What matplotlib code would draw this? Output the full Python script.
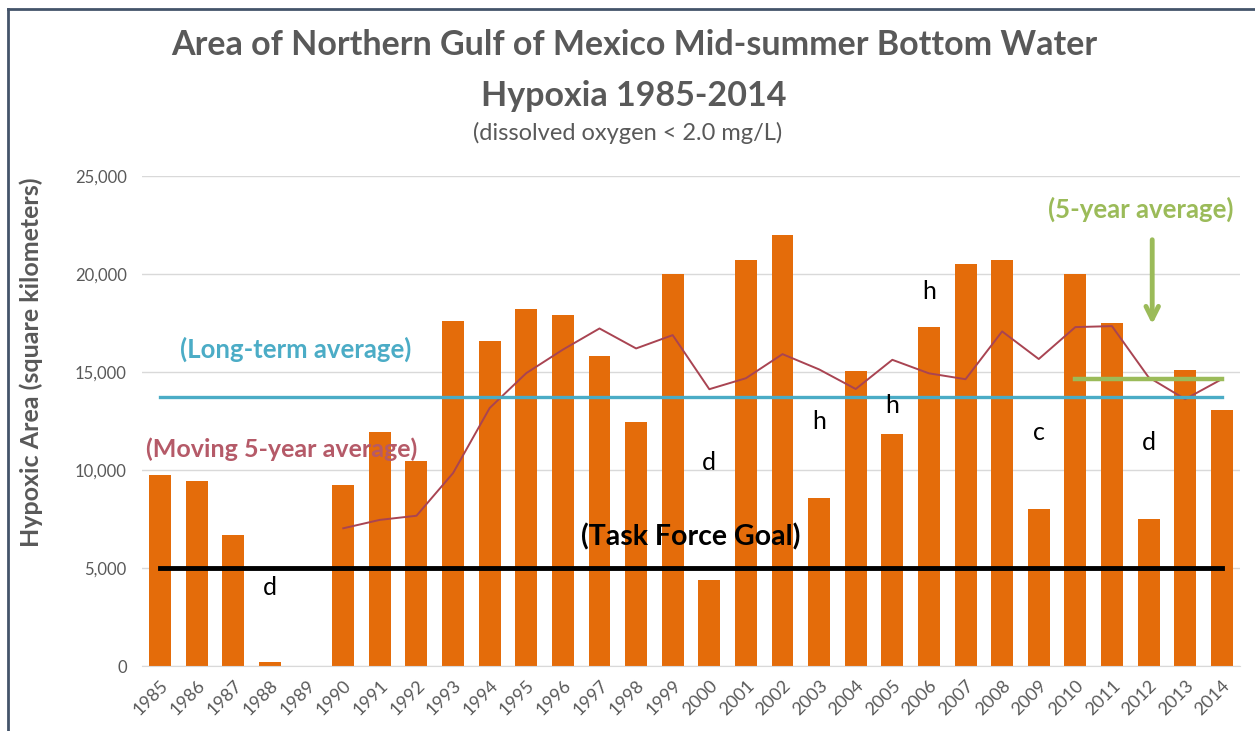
import numpy as np
import matplotlib
matplotlib.use("Agg")
import matplotlib.pyplot as plt
from matplotlib.lines import Line2D

years = list(range(1985, 2015))
area = [9774, 9420, 6670, 200, np.nan, 9260, 11920, 10450, 17600, 16600,
        18200, 17920, 15840, 12480, 20000, 4400, 20720, 22000, 8560, 15040,
        11840, 17280, 20500, 20720, 8000, 20000, 17520, 7480, 15120, 13080]
moving_years = list(range(1990, 2015))
moving_avg = [7030, 7460, 7670, 9850, 13170, 14950, 16150, 17230, 16210, 16890,
              14130, 14690, 15920, 15140, 14140, 15630, 14940, 14640, 17080, 15670,
              17300, 17350, 14740, 13620, 14640]
long_term_avg = 13750
five_year_avg = 14640
task_force_goal = 5000
notes = [(1988, 4000, "d"), (2000, 10400, "d"), (2003, 12500, "h"), (2005, 13300, "h"),
         (2006, 19100, "h"), (2009, 11900, "c"), (2012, 11400, "d")]

plt.rcParams['font.family'] = ['Lato', 'DejaVu Sans']
gray = "#595959"

fig = plt.figure(figsize=(12.55, 7.31), dpi=100)
ax = fig.add_axes([0.1131, 0.0889, 0.875, 0.670])

x = np.arange(len(years))
ax.bar(x, area, width=0.6, color="#E46C0A", zorder=2)

mx = [years.index(y) for y in moving_years]
ax.plot(mx, moving_avg, color="#A94452", lw=1.4, zorder=3)

ax.plot([0, 29], [long_term_avg, long_term_avg], color="#4BACC6", lw=2.4, zorder=3)
ax.plot([0, 29], [task_force_goal, task_force_goal], color="black", lw=3.5, zorder=4)
ax.plot([25, 29], [five_year_avg, five_year_avg], color="#9BBB59", lw=3.2, zorder=4)

for yr, v, s in notes:
    ax.text(years.index(yr), v, s, fontsize=18, ha="center", va="center", color="black", zorder=5)

ax.text(0.55, 16150, "(Long-term average)", color="#4BACC6", fontsize=18.5,
        fontweight="bold", va="center", ha="left", zorder=5)
ax.text(-0.4, 11050, "(Moving 5-year average)", color="#B55A68", fontsize=18,
        fontweight="bold", va="center", ha="left", zorder=5)
ax.text(14.5, 6580, "(Task Force Goal)", color="black", fontsize=20.5,
        fontweight="bold", va="center", ha="center", zorder=5)
ax.text(26.8, 23300, "(5-year average)", color="#9BBB59", fontsize=18.5,
        fontweight="bold", va="center", ha="center", zorder=5)
ax.annotate("", xy=(27.1, 17300), xytext=(27.1, 21900),
            arrowprops=dict(arrowstyle="->,head_width=0.45,head_length=0.9",
                            color="#9BBB59", lw=3.5), zorder=5)

ax.set_xlim(-0.5, 29.5)
ax.set_ylim(0, 25000)
ax.set_yticks(range(0, 25001, 5000))
ax.set_yticklabels([f"{v:,}" for v in range(0, 25001, 5000)])
ax.set_xticks(x)
ax.set_xticklabels([str(y) for y in years], rotation=45, ha="right",
                   rotation_mode="anchor")
ax.tick_params(axis="both", length=0, labelsize=12, labelcolor=gray)
ax.tick_params(axis="x", pad=8, labelsize=13)
ax.tick_params(axis="y", pad=11)
ax.grid(axis="y", color="#D9D9D9", lw=1.0, zorder=0)
ax.set_axisbelow(True)
for s in ["top", "right", "left"]:
    ax.spines[s].set_visible(False)
ax.spines["bottom"].set_color("#D9D9D9")

ax.set_ylabel("Hypoxic Area (square kilometers)", fontsize=18, fontweight="bold",
              color=gray)
ax.yaxis.set_label_coords(-0.09, 0.62)

fig.text(0.505, 0.938, "Area of Northern Gulf of Mexico Mid-summer Bottom Water",
         ha="center", va="center", fontsize=24.5, fontweight="bold", color=gray)
fig.text(0.505, 0.868, "Hypoxia 1985-2014",
         ha="center", va="center", fontsize=24.5, fontweight="bold", color=gray)
fig.text(0.5, 0.818, "(dissolved oxygen < 2.0 mg/L)",
         ha="center", va="center", fontsize=17, color=gray)

# frame line at top and left
fig.add_artist(Line2D([8 / 1255, 8 / 1255], [0, 1 - 9 / 731], color="#44546A", lw=2))
fig.add_artist(Line2D([8 / 1255, 1], [1 - 9 / 731, 1 - 9 / 731], color="#44546A", lw=2))

fig.savefig("out.png", dpi=100)
